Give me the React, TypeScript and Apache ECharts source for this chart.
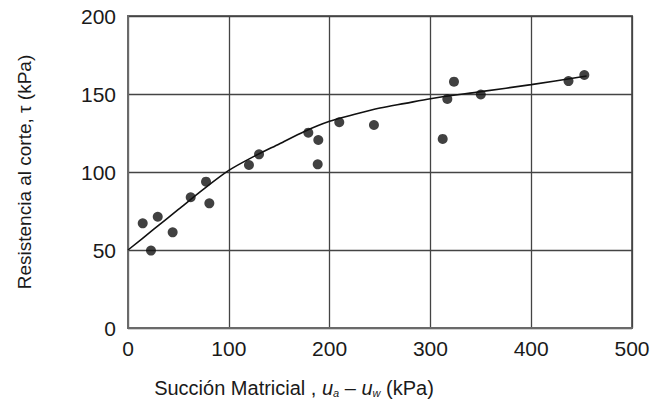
import React, { useEffect, useRef } from "react";
import * as echarts from "echarts";

const suctionPts = [14.6, 22.8, 29.5, 44.3, 62.2, 77.4, 80.7, 120, 130, 178.9, 188.8, 188.2, 209.6, 244, 312.2, 316.8, 323.4, 350, 437, 452.7];
const strengthPts = [67.1, 49.6, 71.3, 61.3, 83.8, 93.8, 79.9, 104.5, 111.3, 125.2, 120.5, 104.9, 131.9, 130.1, 121.2, 146.8, 157.9, 149.7, 158.3, 162.2];

const curveX = [0, 25, 50, 75, 100, 125, 150, 175, 200, 225, 250, 275, 300, 350, 400, 455];
const curveY = [50, 63, 76, 89, 101, 110, 118, 126, 132.5, 137, 141, 144, 147, 151.5, 156, 161.5];

const xTicks = [0, 100, 200, 300, 400, 500];
const yTicks = [0, 50, 100, 150, 200];

const FONT = "'Liberation Sans', Arial, Helvetica, sans-serif";
const TEXT = "#1a1a1a";

export default function App() {
  const ref = useRef<HTMLDivElement>(null);
  useEffect(() => {
    if (!ref.current) return;
    const chart = echarts.init(ref.current, undefined, { renderer: "svg" });
    chart.setOption({
      animation: false,
      backgroundColor: "#fff",
      grid: {
        left: 128,
        right: 27,
        top: 16,
        bottom: 80,
        show: true,
        borderColor: "#6a6a6a",
        borderWidth: 2,
        backgroundColor: "transparent",
      },
      xAxis: {
        type: "value",
        min: xTicks[0],
        max: xTicks[xTicks.length - 1],
        interval: 100,
        axisLine: { show: true, lineStyle: { color: "#6a6a6a", width: 2 } },
        axisTick: { show: false },
        splitLine: { show: true, lineStyle: { color: "#444", width: 1.3 } },
        axisLabel: { color: TEXT, fontFamily: FONT, fontSize: 21, margin: 10 },
        name: "{t|Succión Matricial , }{i|u}{s|a}{t| – }{i|u}{s|w}{t| (kPa)}",
        nameLocation: "middle",
        nameGap: 50,
        nameTextStyle: {
          padding: [0, 172, 0, 0],
          rich: {
            t: { fontFamily: FONT, fontSize: 20, color: TEXT },
            i: { fontFamily: FONT, fontSize: 20, color: TEXT, fontStyle: "italic" },
            s: { fontFamily: FONT, fontSize: 11, color: TEXT, fontStyle: "italic", padding: [9, 0, 0, 0] },
          },
        },
      },
      yAxis: {
        type: "value",
        min: yTicks[0],
        max: yTicks[yTicks.length - 1],
        interval: 50,
        axisLine: { show: true, lineStyle: { color: "#6a6a6a", width: 2 } },
        axisTick: { show: false },
        splitLine: { show: true, lineStyle: { color: "#444", width: 1.3 } },
        axisLabel: { color: TEXT, fontFamily: FONT, fontSize: 21, margin: 12 },
        name: "Resistencia al corte, τ (kPa)",
        nameLocation: "middle",
        nameGap: 94,
        nameTextStyle: { color: TEXT, fontFamily: FONT, fontSize: 19 },
      },
      series: [
        {
          type: "line",
          data: curveX.map((x, i) => [x, curveY[i]]),
          smooth: 0.3,
          symbol: "none",
          lineStyle: { color: "#111", width: 1.6 },
          z: 3,
        },
        {
          type: "scatter",
          data: suctionPts.map((x, i) => [x, strengthPts[i]]),
          symbol: "circle",
          symbolSize: 10,
          itemStyle: { color: "#111" },
          z: 4,
        },
      ],
    });
    return () => chart.dispose();
  }, []);
  return <div ref={ref} style={{ width: 659, height: 408, position: "absolute", left: 0, top: 0 }} />;
}
